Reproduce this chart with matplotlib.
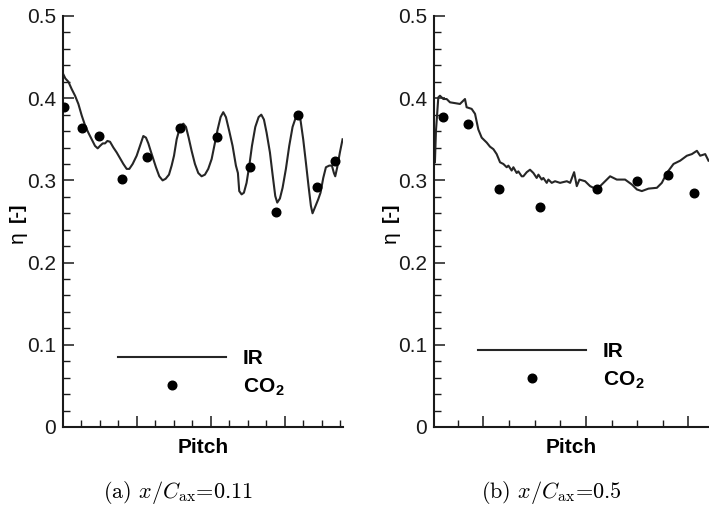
import matplotlib
matplotlib.use("Agg")
import matplotlib.pyplot as plt
from matplotlib.ticker import MultipleLocator, FixedLocator, NullFormatter

plt.rcParams['font.family'] = ['Liberation Sans', 'DejaVu Sans']
plt.rcParams['mathtext.fontset'] = 'custom'
plt.rcParams['mathtext.it'] = 'cmmi10'
plt.rcParams['mathtext.rm'] = 'cmr10'
plt.rcParams['mathtext.bf'] = 'Liberation Sans:bold'

# ---------------- data: panel (a) x/Cax = 0.11 ----------------
ir_a_x = [0.009, 0.036, 0.077, 0.122, 0.167, 0.212, 0.257, 0.302, 0.347, 0.392,
          0.437, 0.473, 0.505, 0.541, 0.572, 0.604, 0.640, 0.685, 0.730, 0.775,
          0.820, 0.865, 0.901, 0.946, 1.000, 1.045, 1.090, 1.126, 1.158, 1.189,
          1.225, 1.261, 1.306, 1.351, 1.392, 1.437, 1.473, 1.505, 1.541, 1.586,
          1.631, 1.667, 1.703, 1.743, 1.788, 1.833, 1.878, 1.923, 1.968, 2.014,
          2.059, 2.095, 2.135, 2.171, 2.207, 2.252, 2.297, 2.342, 2.369, 2.387,
          2.419, 2.450, 2.486, 2.523, 2.559, 2.604, 2.649, 2.685, 2.721, 2.757,
          2.802, 2.838, 2.874, 2.901, 2.937, 2.973, 3.018, 3.063, 3.108, 3.153,
          3.185, 3.216, 3.252, 3.288, 3.324, 3.356, 3.378, 3.410, 3.455, 3.486,
          3.523, 3.559, 3.604, 3.640, 3.667, 3.685, 3.712, 3.748, 3.784]
ir_a_y = [0.429, 0.424, 0.420, 0.411, 0.403, 0.393, 0.379, 0.367, 0.358, 0.350,
          0.342, 0.339, 0.342, 0.345, 0.345, 0.348, 0.347, 0.340, 0.334, 0.327,
          0.320, 0.314, 0.314, 0.320, 0.330, 0.342, 0.354, 0.352, 0.345, 0.336,
          0.326, 0.316, 0.305, 0.300, 0.302, 0.307, 0.318, 0.330, 0.350, 0.365,
          0.369, 0.365, 0.352, 0.336, 0.320, 0.309, 0.305, 0.307, 0.314, 0.326,
          0.346, 0.362, 0.377, 0.383, 0.377, 0.360, 0.342, 0.318, 0.309, 0.287,
          0.283, 0.285, 0.297, 0.318, 0.342, 0.365, 0.377, 0.380, 0.374, 0.358,
          0.334, 0.307, 0.281, 0.273, 0.278, 0.291, 0.314, 0.342, 0.365, 0.377,
          0.381, 0.373, 0.350, 0.322, 0.293, 0.269, 0.260, 0.267, 0.277, 0.285,
          0.303, 0.316, 0.318, 0.318, 0.309, 0.305, 0.316, 0.334, 0.350]
co2_a_x = [0.018, 0.261, 0.495, 0.802, 1.140, 1.590, 2.086, 2.527, 2.878, 3.185, 3.437, 3.680]
co2_a_y = [0.389, 0.364, 0.354, 0.302, 0.329, 0.364, 0.353, 0.316, 0.261, 0.380, 0.292, 0.323]

# ---------------- data: panel (b) x/Cax = 0.5 ----------------
ir_b_x = [-0.472, -0.462, -0.439, -0.423, -0.390, -0.358, -0.325, -0.276, -0.228,
          -0.179, -0.163, -0.114, -0.081, -0.049, -0.016, 0.033, 0.065, 0.098,
          0.130, 0.163, 0.195, 0.228, 0.244, 0.276, 0.293, 0.325, 0.341, 0.374,
          0.390, 0.423, 0.455, 0.488, 0.520, 0.537, 0.569, 0.585, 0.618, 0.634,
          0.667, 0.699, 0.748, 0.814, 0.846, 0.885, 0.911, 0.937, 0.992, 1.041,
          1.106, 1.171, 1.236, 1.301, 1.382, 1.448, 1.497, 1.545, 1.610, 1.692,
          1.740, 1.789, 1.854, 1.919, 1.984, 2.033, 2.082, 2.114, 2.163, 2.195]
ir_b_y = [0.322, 0.360, 0.401, 0.403, 0.399, 0.399, 0.395, 0.394, 0.393,
          0.399, 0.389, 0.387, 0.381, 0.362, 0.352, 0.346, 0.341, 0.338,
          0.332, 0.322, 0.320, 0.316, 0.318, 0.312, 0.316, 0.309, 0.311, 0.305,
          0.305, 0.310, 0.313, 0.309, 0.303, 0.307, 0.301, 0.303, 0.297, 0.301,
          0.297, 0.299, 0.297, 0.299, 0.297, 0.310, 0.293, 0.301, 0.299, 0.293,
          0.289, 0.297, 0.305, 0.301, 0.301, 0.295, 0.289, 0.287, 0.290, 0.291,
          0.297, 0.309, 0.320, 0.324, 0.330, 0.332, 0.336, 0.330, 0.332, 0.324]
co2_b_x = [-0.390, -0.146, 0.156, 0.553, 1.106, 1.496, 1.798, 2.049]
co2_b_y = [0.377, 0.369, 0.289, 0.268, 0.289, 0.299, 0.307, 0.285]

y_ticks = [0, 0.1, 0.2, 0.3, 0.4, 0.5]
y_ticklabels = ["0", "0.1", "0.2", "0.3", "0.4", "0.5"]
captions = [r"(a) $x/C_{\mathrm{ax}}$=0.11", r"(b) $x/C_{\mathrm{ax}}$=0.5"]
series_labels = ["IR", r"CO$_{\mathbf{2}}$"]

W, H = 709, 507
fig = plt.figure(figsize=(W / 100, H / 100), dpi=100)

def px_axes(x0, x1, y_top, y_bot):
    return fig.add_axes([x0 / W, (H - y_bot) / H, (x1 - x0) / W, (y_bot - y_top) / H])

ax_a = px_axes(62.7, 343, 16, 427)
ax_b = px_axes(434, 709, 16, 427)

line_color = '#262626'

panels = [
    (ax_a, ir_a_x, ir_a_y, co2_a_x, co2_a_y, (0, 3.79), [0, 1, 2, 3], 0.25, (0.197, 0.1305), captions[0], 178, -0.163),
    (ax_b, ir_b_x, ir_b_y, co2_b_x, co2_b_y, (-0.481, 2.2), [0, 1, 2], -0.25, (0.160, 0.148), captions[1], 551, -0.16),
]

for ax, ix, iy, cx, cy, xlim, majors, mstart, legpos, cap, capx, ylx in panels:
    ax.plot(ix, iy, color=line_color, lw=1.5, label=series_labels[0], zorder=2)
    ax.plot(cx, cy, 'o', color='black', ms=6.2, ls='none', label=series_labels[1], zorder=3)
    ax.set_xlim(*xlim)
    ax.set_ylim(0, 0.5)
    ax.xaxis.set_major_locator(FixedLocator(majors))
    minors = []
    v = mstart
    while v < xlim[1]:
        minors.append(v)
        v += 0.25
    ax.xaxis.set_minor_locator(FixedLocator(minors))
    ax.xaxis.set_major_formatter(NullFormatter())
    ax.set_yticks(y_ticks)
    ax.set_yticklabels(y_ticklabels)
    ax.yaxis.set_minor_locator(MultipleLocator(0.02))
    for s in ['top', 'right']:
        ax.spines[s].set_visible(False)
    for s in ['left', 'bottom']:
        ax.spines[s].set_linewidth(1.5)
        ax.spines[s].set_color('#1a1a1a')
    ax.tick_params(which='major', direction='in', length=8, width=1.1, color='#1a1a1a',
                   labelsize=15, pad=5, labelcolor='#1a1a1a')
    ax.tick_params(which='minor', direction='in', length=5, width=1.0, color='#1a1a1a')
    ax.set_xlabel("Pitch", fontsize=15, fontweight='bold')
    ax.xaxis.set_label_coords(0.5, -0.027)
    ax.xaxis.label.set_va('top')
    # y label: thin eta, bold [-]
    ax.text(ylx, 0.523, "[-]", transform=ax.transAxes, rotation=90,
            fontsize=14, fontweight='bold', ha='center', va='center')
    ax.text(ylx, 0.462, "η", transform=ax.transAxes, rotation=90,
            fontsize=15, ha='center', va='center')
    ax.legend(loc='center left', bbox_to_anchor=legpos, frameon=False,
              prop={'size': 15, 'weight': 'bold'}, handlelength=5.2,
              handletextpad=0.8, labelspacing=0.39, borderpad=0, borderaxespad=0)
    fig.text(capx / W, (H - 493) / H, cap, ha='center', va='center', fontsize=16,
             family='cmr10')

fig.savefig("out.png", dpi=100)
